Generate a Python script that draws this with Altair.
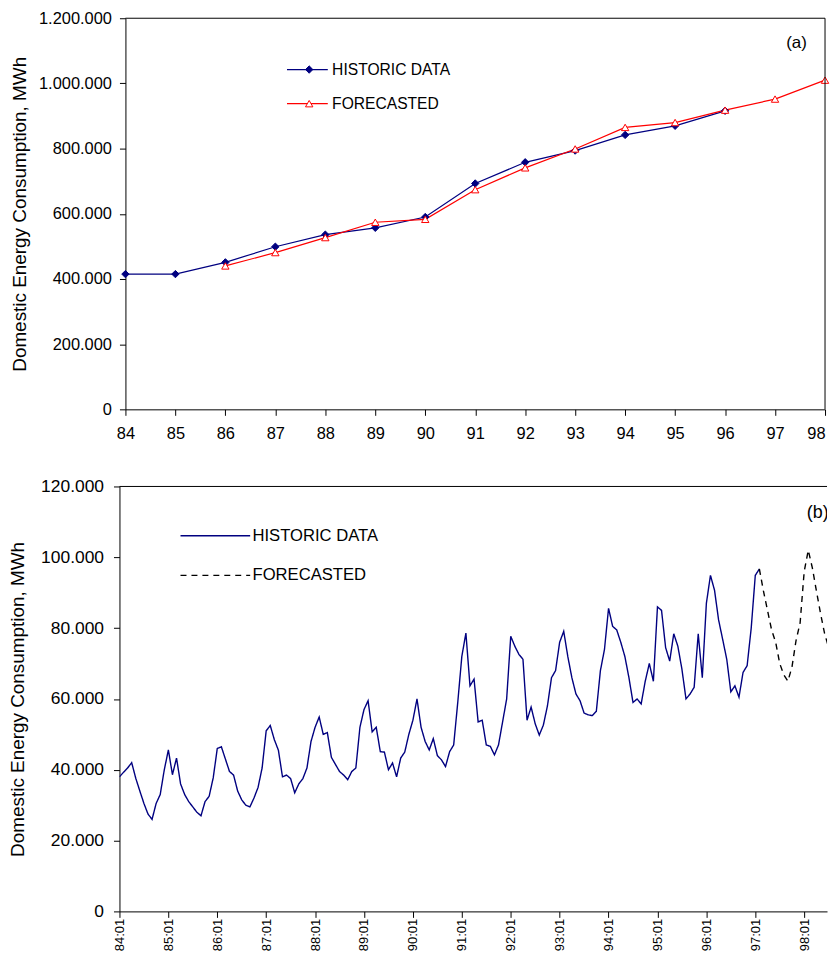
import altair as alt
import pandas as pd

FONT = "Liberation Sans"
NAVY = "#000080"
RED = "#ff0000"
SERIES = ["HISTORIC DATA", "FORECASTED"]

# ---------------- panel (a): annual data ----------------
years_a = list(range(84, 99))
hist_years = list(range(84, 97))
hist_annual = [415000, 415000, 451000, 499000, 536000, 557000, 590000,
               693000, 758000, 794000, 842000, 870000, 916000]
fc_years = list(range(86, 99))
fc_annual = [440000, 481000, 527000, 574000, 583000, 674000, 741000,
             799000, 865000, 880000, 918000, 952000, 1010000]
y_ticks_a = [0, 200000, 400000, 600000, 800000, 1000000, 1200000]

# ---------------- panel (b): monthly data (thousand MWh) ----------------
hist_monthly = [
    38, 39.3, 40.5, 42, 37.6, 34, 30.5, 27.5, 26, 30.5, 33, 40,          # 84
    45.6, 38.6, 43.3, 36, 33, 31, 29.5, 28, 27, 31, 32.5, 37.7,          # 85
    46, 46.5, 43, 39.5, 38.5, 34, 31.5, 30, 29.5, 32, 35, 40.5,          # 86
    51, 52.5, 48.5, 45.5, 38, 38.5, 37.5, 33.5, 36, 37.5, 40.5, 48,      # 87
    52, 54.9, 50, 50.5, 43.5, 41.5, 39.5, 38.5, 37.2, 39.5, 40.5, 52,    # 88
    57, 59.5, 50.7, 52, 45.1, 45, 40, 41.9, 38, 43.3, 45, 50,            # 89
    54, 60, 52, 48, 45.6, 48.8, 44, 42.8, 40.9, 45.1, 47, 59,            # 90
    72, 78.6, 63.7, 65.6, 53.5, 54, 47, 46.6, 44.2, 47, 53.5, 60,        # 91
    77.7, 74.9, 72.6, 71.2, 54, 57.7, 53, 49.8, 52.6, 58, 66, 68,        # 92
    76, 79.1, 72, 66, 61.4, 59.5, 56, 55.5, 55.3, 56.5, 68, 74,          # 93
    85.6, 80.5, 79.5, 76, 72, 66, 59, 60, 58.6, 65, 70, 65,              # 94
    86, 85, 74.5, 70.7, 78.4, 74.9, 68.4, 60, 61.4, 63.3, 78.4, 66,      # 95
    87, 94.9, 90.7, 82.3, 76.8, 71.2, 62, 63.7, 60.5, 67.5, 69.4, 80,    # 96
    94.9, 96.7,                                                          # 97
]
fc_start = len(hist_monthly) - 1
fc_monthly = [96.7, 90.5, 85, 79.5, 76, 70, 66.8, 65, 69, 76.5, 81.5, 96,
              102, 97, 90.5, 84.2, 78.5, 74.5, 70.5, 68.5]
month_ticks = list(range(0, 169, 12))
y_ticks_b = [0, 20000, 40000, 60000, 80000, 100000, 120000]
X_MAX_B = 173.6

thousands = "replace(format(datum.value, ','), regexp(',', 'g'), '.')"

# ---------------- build panel (a) ----------------
df_a = pd.concat([
    pd.DataFrame({"year": hist_years, "value": hist_annual,
                  "series": SERIES[0], "series2": "1 " + SERIES[0]}),
    pd.DataFrame({"year": fc_years, "value": fc_annual,
                  "series": SERIES[1], "series2": "2 " + SERIES[1]}),
])

xs_a = alt.Scale(domain=[84, 98], range=[6, 709], nice=False, zero=False)
ys_a = alt.Scale(domain=[0, 1200000], nice=False)

xaxis_a = alt.Axis(values=years_a, format="d", title=None, labelFont=FONT,
                   labelFontSize=16.5, labelColor="black", tickSize=6,
                   labelPadding=10, labelFlush=False, labelOverlap=False,
                   labelAlign={"condition": {"test": "datum.value == 98", "value": "right"},
                               "value": "center"},
                   domainColor="black", tickColor="black", grid=False)
yaxis_a = alt.Axis(values=y_ticks_a, labelExpr=thousands,
                   title="Domestic Energy Consumption, MWh", titleFont=FONT,
                   titleFontSize=19, titleFontWeight="normal", titleColor="black",
                   titleX=-96, titleBaseline="bottom",
                   labelFont=FONT, labelFontSize=16.5, labelColor="black",
                   tickSize=6, labelPadding=8, offset=-6,
                   domainColor="black", tickColor="black", grid=False)

leg_line_a = alt.Legend(orient="none", legendX=181, legendY=43.7, title=None,
                        padding=0, rowPadding=17.3, labelFont=FONT,
                        labelFontSize=15.7, labelColor="black",
                        symbolType="M-4.1,0H4.1", symbolSize=100,
                        symbolStrokeWidth=1.2, labelOffset=17)
leg_pt_a = alt.Legend(orient="none", legendX=182.8, legendY=43.7, title=None,
                      padding=0, rowPadding=17.3, labelFont=FONT,
                      labelFontSize=15.7, labelExpr="''",
                      symbolSize=55, symbolStrokeWidth=1, labelOffset=17)

lines_a = alt.Chart(df_a).mark_line(strokeWidth=1.2).encode(
    x=alt.X("year:Q", scale=xs_a, axis=xaxis_a),
    y=alt.Y("value:Q", scale=ys_a, axis=yaxis_a),
    color=alt.Color("series:N", scale=alt.Scale(domain=SERIES, range=[NAVY, RED]),
                    legend=leg_line_a),
    order="year:Q",
)
points_a = alt.Chart(df_a).mark_point(size=55, strokeWidth=1, opacity=1).encode(
    x=alt.X("year:Q", scale=xs_a),
    y=alt.Y("value:Q", scale=ys_a),
    shape=alt.Shape("series2:N", scale=alt.Scale(range=["diamond", "triangle-up"]),
                    legend=leg_pt_a),
    fill=alt.Fill("series2:N", scale=alt.Scale(range=[NAVY, "white"]), legend=leg_pt_a),
    stroke=alt.Stroke("series2:N", scale=alt.Scale(range=[NAVY, RED]), legend=leg_pt_a),
)
frame_a_top = alt.Chart(pd.DataFrame({"x": [84], "x2": [98], "y": [1200000]})).mark_rule(
    color="black", strokeWidth=1).encode(
    x=alt.X("x:Q", scale=xs_a), x2="x2:Q", y=alt.Y("y:Q", scale=ys_a))
frame_a_right = alt.Chart(pd.DataFrame({"x": [98], "y": [0], "y2": [1200000]})).mark_rule(
    color="black", strokeWidth=1).encode(
    x=alt.X("x:Q", scale=xs_a), y=alt.Y("y:Q", scale=ys_a), y2="y2:Q")
label_a = alt.Chart(pd.DataFrame({"x": [97.43], "y": [1123650], "t": ["(a)"]})).mark_text(
    font=FONT, fontSize=17, color="black").encode(
    x=alt.X("x:Q", scale=xs_a), y=alt.Y("y:Q", scale=ys_a), text="t:N")

top = alt.layer(lines_a, points_a, frame_a_top, frame_a_right, label_a).properties(
    width=709, height=393)

# ---------------- build panel (b) ----------------
df_b = pd.concat([
    pd.DataFrame({"m": list(range(len(hist_monthly))),
                  "value": [v * 1000 for v in hist_monthly], "series": SERIES[0]}),
    pd.DataFrame({"m": list(range(fc_start, fc_start + len(fc_monthly))),
                  "value": [v * 1000 for v in fc_monthly], "series": SERIES[1]}),
])

xs_b = alt.Scale(domain=[0, X_MAX_B], nice=False, zero=False)
ys_b = alt.Scale(domain=[0, 120000], nice=False)

xaxis_b = alt.Axis(values=month_ticks, labelExpr="format(84 + datum.value / 12, 'd') + ':01'",
                   title=None, labelAngle=-90, labelFont=FONT, labelFontSize=13,
                   labelColor="black", tickSize=6, labelPadding=1, labelFlush=False,
                   labelOverlap=False, domainColor="black", tickColor="black", grid=False)
yaxis_b = alt.Axis(values=y_ticks_b, labelExpr=thousands,
                   title="Domestic Energy Consumption, MWh", titleFont=FONT,
                   titleFontSize=19, titleFontWeight="normal", titleColor="black",
                   titleX=-92, titleBaseline="bottom",
                   labelFont=FONT, labelFontSize=17.5, labelColor="black",
                   tickSize=6, labelPadding=10,
                   domainColor="black", tickColor="black", grid=False)
leg_b = alt.Legend(orient="none", legendX=88, legendY=41.2, title=None,
                   padding=0, rowPadding=21.8, labelFont=FONT, labelFontSize=16.7,
                   labelColor="black", symbolType="M-7,0H7", symbolSize=100,
                   symbolStrokeWidth=1.4, labelOffset=29)

lines_b = alt.Chart(df_b).mark_line(strokeWidth=1.4, clip=True).encode(
    x=alt.X("m:Q", scale=xs_b, axis=xaxis_b),
    y=alt.Y("value:Q", scale=ys_b, axis=yaxis_b),
    color=alt.Color("series:N", scale=alt.Scale(domain=SERIES, range=[NAVY, "black"]),
                    legend=leg_b),
    strokeDash=alt.StrokeDash("series:N",
                              scale=alt.Scale(domain=SERIES, range=[[1, 0], [6, 5]]),
                              legend=leg_b),
    order="m:Q",
)
frame_b_top = alt.Chart(pd.DataFrame({"x": [0], "x2": [X_MAX_B], "y": [120000]})).mark_rule(
    color="black", strokeWidth=1).encode(
    x=alt.X("x:Q", scale=xs_b), x2="x2:Q", y=alt.Y("y:Q", scale=ys_b))
label_b = alt.Chart(pd.DataFrame({"x": [171.3], "y": [112500], "t": ["(b)"]})).mark_text(
    font=FONT, fontSize=18, color="black", clip=True).encode(
    x=alt.X("x:Q", scale=xs_b), y=alt.Y("y:Q", scale=ys_b), text="t:N")

bottom = alt.layer(lines_b, frame_b_top, label_b).properties(width=711, height=427)

chart = alt.vconcat(top, bottom, spacing=35.5).resolve_scale(
    color="independent", strokeDash="independent", shape="independent",
    fill="independent", stroke="independent",
).resolve_legend(
    color="independent", strokeDash="independent", shape="independent",
    fill="independent", stroke="independent",
).properties(
    padding={"left": 0, "top": 0, "right": 0, "bottom": -2},
    background="white",
).configure_view(stroke=None)

chart.save("out.html", embed_options={"renderer": "svg", "actions": False})
